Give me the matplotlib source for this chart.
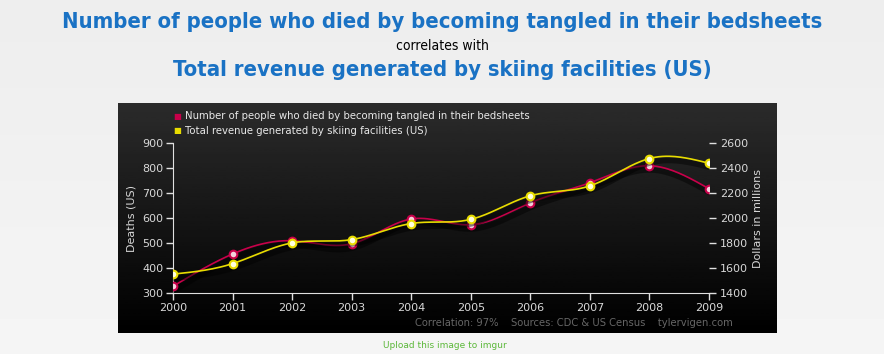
import numpy as np
import matplotlib
matplotlib.use("Agg")
import matplotlib.pyplot as plt
import matplotlib.patheffects as pe

years = [2000, 2001, 2002, 2003, 2004, 2005, 2006, 2007, 2008, 2009]
deaths = [327, 456, 509, 497, 596, 573, 661, 741, 809, 717]
revenue = [1551, 1635, 1801, 1827, 1956, 1989, 2178, 2257, 2476, 2438]

title1 = "Number of people who died by becoming tangled in their bedsheets"
title2 = "Total revenue generated by skiing facilities (US)"
footer = "Correlation: 97%    Sources: CDC & US Census    tylervigen.com"


def smooth(x, y, n=300):
    # natural cubic spline, just for drawing the curve
    x = np.asarray(x, float)
    y = np.asarray(y, float)
    k = len(x)
    h = np.diff(x)
    A = np.zeros((k, k))
    b = np.zeros(k)
    A[0, 0] = A[-1, -1] = 1
    for i in range(1, k - 1):
        A[i, i - 1] = h[i - 1]
        A[i, i] = 2 * (h[i - 1] + h[i])
        A[i, i + 1] = h[i]
        b[i] = 3 * ((y[i + 1] - y[i]) / h[i] - (y[i] - y[i - 1]) / h[i - 1])
    c = np.linalg.solve(A, b)
    xs = np.linspace(x[0], x[-1], n)
    idx = np.clip(np.searchsorted(x, xs) - 1, 0, k - 2)
    dx = xs - x[idx]
    bb = (y[idx + 1] - y[idx]) / h[idx] - h[idx] * (2 * c[idx] + c[idx + 1]) / 3
    d = (c[idx + 1] - c[idx]) / (3 * h[idx])
    return xs, y[idx] + bb * dx + c[idx] * dx ** 2 + d * dx ** 3


plt.rcParams["font.family"] = "DejaVu Sans"

fig = plt.figure(figsize=(8.84, 3.54), dpi=100)

# light background
bg = fig.add_axes([0, 0, 1, 1])
bg.imshow(np.linspace(0.93, 0.96, 100).reshape(-1, 1), cmap="gray", vmin=0, vmax=1,
          aspect="auto", extent=[0, 1, 0, 1])
bg.set_xlim(0, 1)
bg.set_ylim(0, 1)
bg.axis("off")

# dark panel
panel = fig.add_axes([118 / 884, 1 - 333 / 354, 659 / 884, 230 / 354])
panel.imshow(np.linspace(0.17, 0.0, 100).reshape(-1, 1), cmap="gray", vmin=0, vmax=1,
             aspect="auto", extent=[0, 1, 0, 1])
panel.axis("off")

fig.text(0.5, 1 - 22 / 354, title1, ha="center", va="center", color="#1a72c4",
         fontsize=15.8, fontweight="bold", fontstretch="condensed")
fig.text(0.5, 1 - 46 / 354, "correlates with", ha="center", va="center", color="black",
         fontsize=10, fontstretch="condensed")
fig.text(0.5, 1 - 70 / 354, title2, ha="center", va="center", color="#1a72c4",
         fontsize=15.8, fontweight="bold", fontstretch="condensed")

ax = fig.add_axes([173 / 884, 1 - 293 / 354, 536 / 884, 150 / 354])
ax.set_facecolor("none")
ax2 = ax.twinx()

red = "#c8004a"
yel = "#e8dc00"
shadow = [pe.SimpleLineShadow(offset=(1, -3), shadow_color="black", alpha=0.45, linewidth=4),
          pe.Normal()]

xs, ys = smooth(years, deaths)
ax.plot(xs, ys, color=red, lw=1.2, path_effects=shadow, zorder=3)
ax.plot(years, deaths, "o", ms=5.5, mfc="#f4d0dc", mec=red, mew=1.5, zorder=4)

xs, ys = smooth(years, revenue)
ax2.plot(xs, ys, color=yel, lw=1.2, path_effects=shadow, zorder=3)
ax2.plot(years, revenue, "o", ms=5.5, mfc="#ffffe0", mec=yel, mew=1.5, zorder=4)

ax.set_xlim(2000, 2009)
ax.set_ylim(300, 900)
ax2.set_ylim(1400, 2600)
ax.set_xticks(years)
ax.set_yticks(range(300, 901, 100))
ax2.set_yticks(range(1400, 2601, 200))

for a in (ax, ax2):
    for s in a.spines.values():
        s.set_visible(False)
ax.spines["left"].set_visible(True)
ax.spines["bottom"].set_visible(True)
ax.spines["left"].set_color("#e0e0e0")
ax.spines["bottom"].set_color("#e0e0e0")

ax.tick_params(axis="both", colors="#e0e0e0", labelcolor="#d8d8d8", labelsize=8,
               length=5, width=1, pad=2)
ax2.tick_params(axis="y", colors="#e0e0e0", labelcolor="#d8d8d8", labelsize=8,
                length=5, width=1, pad=3, direction="out")

ax.set_ylabel("Deaths (US)", color="#d8d8d8", fontsize=8, labelpad=4)
ax2.set_ylabel("Dollars in millions", color="#d8d8d8", fontsize=8, labelpad=3)

# legend
fig.text(173 / 884, 1 - 116 / 354, "\u25a0", color=red, fontsize=6, ha="left", va="center")
fig.text(185 / 884, 1 - 116 / 354, title1, color="#e8e8e8", fontsize=7.3, ha="left", va="center")
fig.text(173 / 884, 1 - 131 / 354, "\u25a0", color=yel, fontsize=6, ha="left", va="center")
fig.text(185 / 884, 1 - 131 / 354, title2, color="#e8e8e8", fontsize=7.3, ha="left", va="center")

fig.text(733 / 884, 1 - 323 / 354, footer, color="#666666", fontsize=7.2, ha="right", va="center")
fig.text(445 / 884, 1 - 345 / 354, "Upload this image to imgur", color="#5cb83a",
         fontsize=6.5, ha="center", va="center")

fig.savefig("out.png", dpi=100)
